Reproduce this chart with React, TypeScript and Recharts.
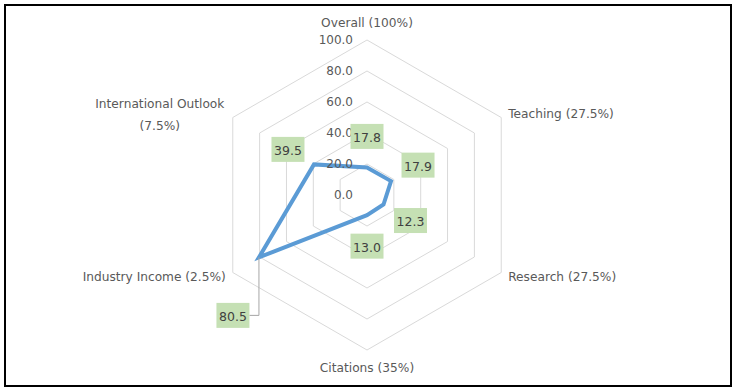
import React from "react"
import { RadarChart, Radar, PolarGrid, PolarAngleAxis, PolarRadiusAxis, LabelList } from "recharts"

const categories = [
  "Overall (100%)",
  "Teaching (27.5%)",
  "Research (27.5%)",
  "Citations (35%)",
  "Industry Income (2.5%)",
  "International Outlook (7.5%)",
]
const scores = [17.8, 17.9, 12.3, 13.0, 80.5, 39.5]
const radiusTicks = [0, 20, 40, 60, 80, 100]

const data = categories.map((subject, i) => ({ subject, score: scores[i] }))

const FONT = "'DejaVu Sans', sans-serif"
const GRAY = "#595959"

// where Excel moved each data label, relative to its point
const labelShift = [
  [0, -31],
  [27, -16],
  [27, 16],
  [0, 31],
  [-26, 58],
  [-26, -15],
]

const AngleTick = ({ x, y, textAnchor, payload }: any) => {
  const text: string = payload.value
  let dy = 0
  if (textAnchor === "middle") dy = y < 195 ? -9 : 10
  if (text.length > 24) {
    const cut = text.lastIndexOf(" ")
    const lines = [text.slice(0, cut), text.slice(cut + 1)]
    return (
      <text fontFamily={FONT} fontSize={12.2} fill={GRAY} textAnchor="middle">
        {lines.map((l, i) => (
          <tspan key={i} x={x - 66} y={y - 10 + i * 22} dominantBaseline="central">
            {l}
          </tspan>
        ))}
      </text>
    )
  }
  return (
    <text x={x} y={y + dy} fontFamily={FONT} fontSize={12.2} fill={GRAY} textAnchor={textAnchor} dominantBaseline="central">
      {text}
    </text>
  )
}

const RadiusTick = ({ x, y, payload }: any) => (
  <text x={x - 14} y={y} fontFamily={FONT} fontSize={12} fill={GRAY} textAnchor="end" dominantBaseline="central">
    {Number(payload.value).toFixed(1)}
  </text>
)

const ValueLabel = ({ x, y, value, index }: any) => {
  const [dx, dy] = labelShift[index] || [0, 0]
  const bx = x + dx
  const by = y + dy
  const w = 33
  const h = 25
  return (
    <g>
      {index === 4 && (
        <polyline points={`${x},${y} ${x},${by} ${bx + w / 2},${by}`} fill="none" stroke="#a6a6a6" strokeWidth={1} />
      )}
      <rect x={bx - w / 2} y={by - h / 2} width={w} height={h} fill="#c5e0b4" />
      <text x={bx} y={by + 1} fontFamily={FONT} fontSize={12.5} fill="#404040" textAnchor="middle" dominantBaseline="central">
        {Number(value).toFixed(1)}
      </text>
    </g>
  )
}

export default function App() {
  return (
    <div style={{ position: "fixed", left: 0, top: 0, width: 735, height: 390, background: "#fff" }}>
      <div
        style={{
          position: "absolute",
          left: 4,
          top: 4,
          width: 728,
          height: 383,
          border: "2px solid #000",
          boxSizing: "border-box",
        }}
      />
      <RadarChart
        width={735}
        height={390}
        data={data}
        cx={367}
        cy={195}
        outerRadius={155}
        margin={{ top: 0, right: 0, bottom: 0, left: 0 }}
        style={{ position: "absolute", left: 0, top: 0 }}
      >
        <PolarGrid gridType="polygon" radialLines={false} stroke="#d9d9d9" />
        <PolarAngleAxis dataKey="subject" tick={<AngleTick />} tickLine={false} axisLine={false} />
        <PolarRadiusAxis
          angle={90}
          domain={[0, 100]}
          ticks={radiusTicks as any}
          tickCount={6}
          axisLine={false}
          tickLine={false}
          tick={<RadiusTick />}
        />
        <Radar dataKey="score" stroke="#5b9bd5" strokeWidth={4} fill="none" fillOpacity={0} dot={false} isAnimationActive={false}>
          <LabelList dataKey="score" content={<ValueLabel />} />
        </Radar>
      </RadarChart>
    </div>
  )
}
